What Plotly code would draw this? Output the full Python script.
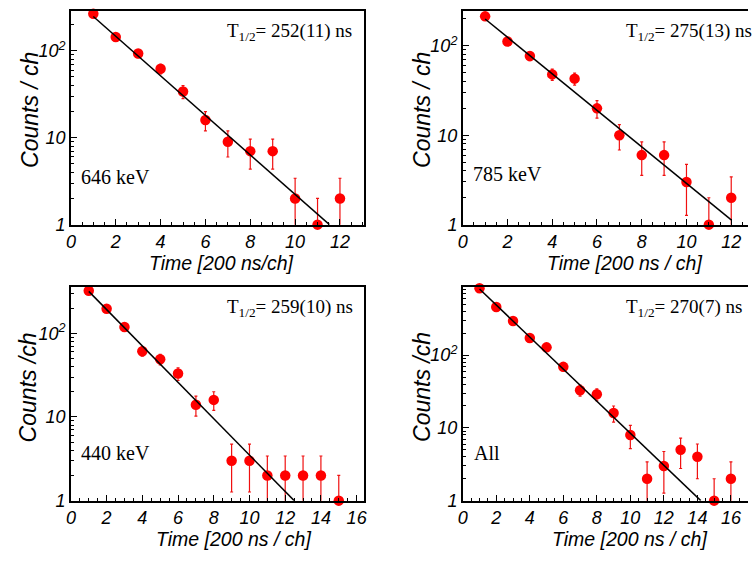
import numpy as np
import plotly.graph_objects as go

W, H = 752, 562

# ---------------- data ----------------
ch_646 = list(range(1, 13))
counts_646 = [267, 144, 93, 62, 34, 16, 9, 7, 7, 2, 1, 2]
fit_646_x = [1, 11.53]
fit_646_y = [248, 1]

ch_785 = list(range(1, 13))
counts_785 = [214, 112, 77, 48, 43, 20, 10, 6, 6, 3, 1, 2]
fit_785_x = [1, 12]
fit_785_y = [200, 1.13]

ch_440 = list(range(1, 16))
counts_440 = [322, 196, 119, 61, 49, 33, 14, 16, 3, 3, 2, 2, 2, 2, 1]
fit_440_x = [1, 12.5]
fit_440_y = [317, 1]

ch_all = list(range(1, 17))
counts_all = [830, 459, 295, 172, 128, 69, 33, 29, 16, 8, 2, 3, 5, 4, 1, 2]
fit_all_x = [1, 14.2]
fit_all_y = [813, 1]

halflife_text = ["T<sub>1/2</sub>= 252(11) ns", "T<sub>1/2</sub>= 275(13) ns",
                 "T<sub>1/2</sub>= 259(10) ns", "T<sub>1/2</sub>= 270(7) ns"]
gate_text = ["646 keV", "785 keV", "440 keV", "All"]
xtitles = ["Time [200 ns/ch]", "Time [200 ns / ch]", "Time [200 ns / ch]", "Time [200 ns / ch]"]
ytitles = ["Counts / ch", "Counts / ch", "Counts /ch", "Counts /ch"]

# ---------------- layout geometry (pixels) ----------------
panels = [
    dict(x=ch_646, y=counts_646, fx=fit_646_x, fy=fit_646_y,
         px=(66.7, 363.3), py=(10.7, 228.7), xr=13.07, yr=2.463, mirror_y=True,
         tl=(222.7, 33), gl=(75, 180), xt=(218.7, 267.5), yt=(24.7, 111.5)),
    dict(x=ch_785, y=counts_785, fx=fit_785_x, fy=fit_785_y,
         px=(463.3, 752), py=(10.7, 228.7), xr=12.75, yr=2.396, mirror_y=False,
         tl=(626, 33), gl=(472, 177), xt=(626.7, 267.5), yt=(422, 112)),
    dict(x=ch_440, y=counts_440, fx=fit_440_x, fy=fit_440_y,
         px=(66.7, 363.3), py=(291.7, 509.7), xr=16.41, yr=2.559, mirror_y=True,
         tl=(222.7, 314), gl=(75, 461), xt=(230.8, 549), yt=(23.4, 394.3)),
    dict(x=ch_all, y=counts_all, fx=fit_all_x, fy=fit_all_y,
         px=(463.3, 752), py=(292.7, 509.7), xr=17.02, yr=2.93, mirror_y=False,
         tl=(626, 314), gl=(472.7, 461), xt=(632.5, 549), yt=(422, 394)),
]

fig = go.Figure()
layout = dict(width=W, height=H, margin=dict(l=0, r=0, t=0, b=0),
              paper_bgcolor="white", plot_bgcolor="white", showlegend=False,
              annotations=[])

tickfont = dict(family="Liberation Sans", size=18, style="italic", color="black")
minor_y = [m * 10 ** d for d in range(0, 3) for m in range(2, 10)]

for i, p in enumerate(panels):
    n = "" if i == 0 else str(i + 1)
    xa, ya = "x" + n, "y" + n
    yv = np.array(p["y"], dtype=float)
    err = np.sqrt(yv)
    # error bars (clipped to the frame)
    fig.add_trace(go.Scatter(x=p["x"], y=p["y"], mode="markers", xaxis=xa, yaxis=ya,
                             marker=dict(size=1, color="rgba(0,0,0,0)"),
                             error_y=dict(type="data", array=err, symmetric=True,
                                          color="#f01010", thickness=1.2, width=1.5),
                             cliponaxis=True, hoverinfo="skip"))
    # markers
    fig.add_trace(go.Scatter(x=p["x"], y=p["y"], mode="markers", xaxis=xa, yaxis=ya,
                             marker=dict(size=10.5, color="#ff0000"),
                             cliponaxis=False))
    # fit line
    fig.add_trace(go.Scatter(x=p["fx"], y=p["fy"], mode="lines", xaxis=xa, yaxis=ya,
                             line=dict(color="black", width=1.5)))

    layout["xaxis" + n] = dict(
        domain=[p["px"][0] / W, p["px"][1] / W], range=[0, p["xr"]], anchor=ya,
        showline=True, linecolor="black", linewidth=1.5, mirror=True,
        ticks="inside", ticklen=6, tickwidth=1, tickcolor="black", tick0=0, dtick=2,
        minor=dict(ticks="inside", ticklen=3, tickwidth=1, tickcolor="black", dtick=0.5),
        showgrid=False, zeroline=False, tickfont=tickfont)
    layout["yaxis" + n] = dict(
        domain=[1 - p["py"][1] / H, 1 - p["py"][0] / H], type="log", range=[0, p["yr"]],
        anchor=xa, showline=True, linecolor="black", linewidth=1.5, mirror=p["mirror_y"],
        ticks="inside", ticklen=6, tickwidth=1, tickcolor="black",
        tickmode="array", tickvals=[1, 10, 100], ticktext=["1", "10", "10<sup>2</sup>"],
        minor=dict(ticks="inside", ticklen=3, tickwidth=1, tickcolor="black",
                   tickmode="array", tickvals=minor_y),
        showgrid=False, zeroline=False, tickfont=tickfont)

    ann = layout["annotations"]
    ann.append(dict(xref="paper", yref="paper", x=p["tl"][0] / W, y=1 - p["tl"][1] / H,
                    xanchor="left", yanchor="middle", showarrow=False, text=halflife_text[i],
                    font=dict(family="Liberation Serif", size=19, color="black")))
    ann.append(dict(xref="paper", yref="paper", x=p["gl"][0] / W, y=1 - p["gl"][1] / H,
                    xanchor="left", yanchor="middle", showarrow=False, text=gate_text[i],
                    font=dict(family="Liberation Serif", size=20, color="black")))
    ann.append(dict(xref="paper", yref="paper", x=p["xt"][0] / W, y=1 - p["xt"][1] / H,
                    xanchor="center", yanchor="middle", showarrow=False, text=xtitles[i],
                    font=dict(family="Liberation Sans", size=19.5, style="italic", color="black")))
    ann.append(dict(xref="paper", yref="paper", x=p["yt"][0] / W, y=1 - p["yt"][1] / H,
                    xanchor="center", yanchor="middle", showarrow=False, text=ytitles[i],
                    textangle=-90,
                    font=dict(family="Liberation Sans", size=23, style="italic", color="black")))

fig.update_layout(**layout)
fig.write_html("out.html")
